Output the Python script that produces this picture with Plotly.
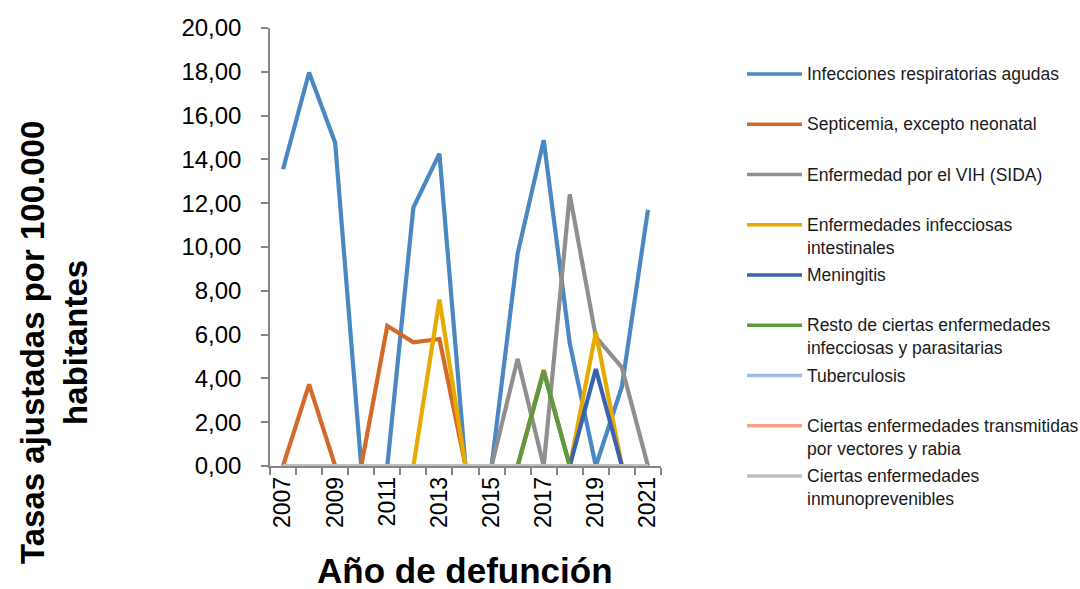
import plotly.graph_objects as go

years = [str(y) for y in range(2007, 2022)]
tick_text = [y if int(y) % 2 == 1 else "" for y in years]
y_ticks = [0, 2, 4, 6, 8, 10, 12, 14, 16, 18, 20]
y_tick_text = ["0,00", "2,00", "4,00", "6,00", "8,00", "10,00", "12,00", "14,00", "16,00", "18,00", "20,00"]

names = [
    "Infecciones respiratorias agudas",
    "Septicemia, excepto neonatal",
    "Enfermedad por el VIH (SIDA)",
    "Enfermedades infecciosas<br>intestinales",
    "Meningitis",
    "Resto de ciertas enfermedades<br>infecciosas y parasitarias",
    "Tuberculosis",
    "Ciertas enfermedades transmitidas<br>por vectores y rabia",
    "Ciertas enfermedades<br>inmunoprevenibles",
]

ira = [13.55, 17.97, 14.76, 0, 0, 11.8, 14.26, 0, 0, 9.7, 14.88, 5.6, 0, 3.62, 11.7]
septicemia = [0, 3.73, 0, 0, 6.4, 5.65, 5.8, 0, 0, 0, 4.38, 0, 0, 0, 0]
vih = [0, 0, 0, 0, 0, 0, 0, 0, 0, 4.89, 0, 12.4, 5.9, 4.5, 0]
intestinales = [0, 0, 0, 0, 0, 0, 7.6, 0, 0, 0, 0, 0, 6.1, 0, 0]
meningitis = [0, 0, 0, 0, 0, 0, 0, 0, 0, 0, 0, 0, 4.43, 0, 0]
resto = [0, 0, 0, 0, 0, 0, 0, 0, 0, 0, 4.3, 0, 0, 0, 0]
tuberculosis = [0] * 15
vectores = [0] * 15
inmuno = [0] * 15

series = [ira, septicemia, vih, intestinales, meningitis, resto, tuberculosis, vectores, inmuno]
colors = ["#4A88C2", "#D4692A", "#8F8F8F", "#E6AA00", "#3A62AE", "#5E9B3E", "#9ABEE5", "#F1A585", "#BFBFBF"]

FONT = "Liberation Sans, Arial, sans-serif"
W, H = 1080, 589
X0, X1, YT, YB = 270, 661, 28, 466

def px(xp):
    return (xp - X0) / (X1 - X0)

def py(yp):
    return (YB - yp) / (YB - YT)

fig = go.Figure()
for name, vals, col in zip(names, series, colors):
    fig.add_trace(go.Scatter(x=years, y=vals, mode="lines", name=name,
                             line=dict(color=col, width=4.2), showlegend=False))

# manual legend
for i, (name, col) in enumerate(zip(names, colors)):
    ly = 74 + i * 50.25
    fig.add_shape(type="line", xref="paper", yref="paper",
                  x0=px(747), x1=px(802), y0=py(ly), y1=py(ly),
                  line=dict(color=col, width=3.5))
    fig.add_annotation(xref="paper", yref="paper", x=px(805), y=py(ly - 12),
                       xanchor="left", yanchor="top", align="left",
                       text=name, showarrow=False,
                       font=dict(family=FONT, size=17.5, color="#1a1a1a"))

fig.add_annotation(xref="paper", yref="paper", x=px(54), y=py(343),
                   xanchor="center", yanchor="middle", textangle=-90,
                   text="<b>Tasas ajustadas por 100.000<br>habitantes</b>",
                   showarrow=False, font=dict(family=FONT, size=33, color="#000000"))
fig.add_annotation(xref="paper", yref="paper", x=px(465), y=py(570),
                   xanchor="center", yanchor="middle",
                   text="<b>Año de defunción</b>",
                   showarrow=False, font=dict(family=FONT, size=35, color="#000000"))

fig.update_layout(
    width=W, height=H,
    margin=dict(l=X0, r=W - X1, t=YT, b=H - YB),
    plot_bgcolor="white", paper_bgcolor="white",
    font=dict(family=FONT, color="#000000"),
)
fig.update_xaxes(type="category", range=[-0.5, 14.5], tickmode="array",
                 tickvals=years, ticktext=tick_text, tickson="boundaries",
                 ticks="outside", ticklen=7, tickcolor="#868686", tickwidth=1.5,
                 showline=True, linecolor="#868686", linewidth=1.5,
                 showgrid=False, tickangle=-90, tickfont=dict(size=23, family=FONT))
fig.update_yaxes(range=[0, 20], tickmode="array", tickvals=y_ticks, ticktext=y_tick_text,
                 ticks="outside", ticklen=7, tickcolor="#868686", tickwidth=1.5,
                 showline=True, linecolor="#868686", linewidth=1.5, ticklabelstandoff=15,
                 showgrid=False, zeroline=False, tickfont=dict(size=24, family=FONT))

fig.write_html("out.html", config={"displayModeBar": False},
               post_script="document.body.style.margin='0px';")
